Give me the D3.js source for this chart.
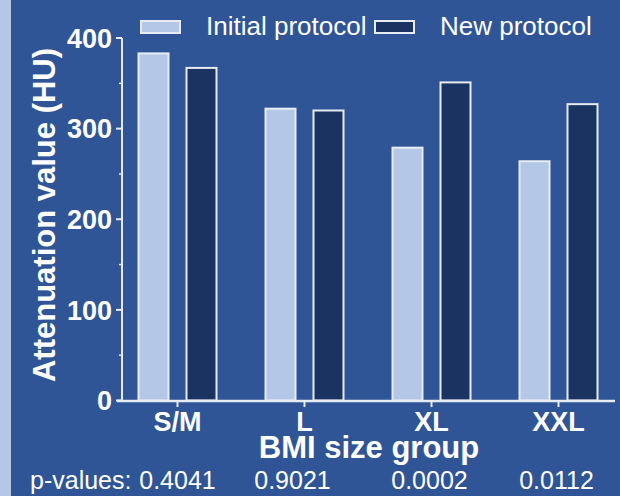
<!DOCTYPE html>
<html><head><meta charset="utf-8">
<script src="https://cdn.jsdelivr.net/npm/d3@7"></script>
<style>html,body{margin:0;padding:0;background:#2f5597;}svg{display:block;}</style>
</head><body>
<script>
const categories = ["S/M", "L", "XL", "XXL"];
const seriesNames = ["Initial protocol", "New protocol"];
const initialValues = [383, 322, 279, 264];
const newValues = [367, 320, 351, 327];
const pValues = ["0.4041", "0.9021", "0.0002", "0.0112"];
const yTicks = [0, 100, 200, 300, 400];
const yMinorTicks = [50, 150, 250, 350];

const W = 620, H = 496;
const bg = "#2f5597", light = "#b4c7e7", dark = "#1a3360", axisCol = "#e6ebf4";
const svg = d3.select("body").append("svg").attr("width", W).attr("height", H);
svg.append("rect").attr("width", W).attr("height", H).attr("fill", bg);
svg.append("rect").attr("width", 11).attr("height", H).attr("fill", light);

const x = d3.scaleBand().domain(categories).range([114, 622]).paddingInner(0).paddingOuter(0);
const y = d3.scaleLinear().domain([0, 400]).range([400.5, 38]);
const barW = 30, gap = 18;
const series = [
  {name: seriesNames[0], values: initialValues, fill: light},
  {name: seriesNames[1], values: newValues, fill: dark}
];

const font = "'Liberation Sans', Arial, sans-serif";

// bars
series.forEach((s, si) => {
  svg.append("g").selectAll("rect").data(categories).join("rect")
    .attr("x", (c) => x(c) + x.bandwidth()/2 + (si === 0 ? -gap/2 - barW : gap/2))
    .attr("y", (c, i) => y(s.values[i]))
    .attr("width", barW)
    .attr("height", (c, i) => y(0) - y(s.values[i]))
    .attr("fill", s.fill)
    .attr("stroke", axisCol).attr("stroke-width", 2);
});

// y axis
const yAxis = svg.append("g").attr("transform", "translate(122,0)");
yAxis.append("line").attr("x1", 0).attr("x2", 0).attr("y1", y(400)).attr("y2", y(0))
  .attr("stroke", axisCol).attr("stroke-width", 2);
yAxis.selectAll("line.maj").data(yTicks).join("line").attr("class", "maj")
  .attr("x1", -6).attr("x2", 0).attr("y1", d => y(d)).attr("y2", d => y(d))
  .attr("stroke", axisCol).attr("stroke-width", 2);
yAxis.selectAll("line.min").data(yMinorTicks).join("line").attr("class", "min")
  .attr("x1", -3).attr("x2", 0).attr("y1", d => y(d)).attr("y2", d => y(d))
  .attr("stroke", axisCol).attr("stroke-width", 1.5);
yAxis.selectAll("text").data(yTicks).join("text")
  .attr("x", -10).attr("y", d => y(d)).attr("dy", "0.36em")
  .attr("text-anchor", "end").attr("fill", "#fff")
  .attr("font-family", font).attr("font-weight", "bold").attr("font-size", 27)
  .text(d => d);

// x axis
const xAxis = svg.append("g");
xAxis.append("line").attr("x1", 117).attr("x2", 615).attr("y1", 401).attr("y2", 401)
  .attr("stroke", axisCol).attr("stroke-width", 2.5);
xAxis.selectAll("line.t").data(categories).join("line").attr("class", "t")
  .attr("x1", c => x(c) + x.bandwidth()/2).attr("x2", c => x(c) + x.bandwidth()/2)
  .attr("y1", 401).attr("y2", 407).attr("stroke", axisCol).attr("stroke-width", 2);
xAxis.selectAll("text").data(categories).join("text")
  .attr("x", c => x(c) + x.bandwidth()/2).attr("y", 431)
  .attr("text-anchor", "middle").attr("fill", "#fff")
  .attr("font-family", font).attr("font-weight", "bold").attr("font-size", 27)
  .text(c => c);

// axis titles
svg.append("text").attr("x", 369).attr("y", 458).attr("text-anchor", "middle")
  .attr("fill", "#fff").attr("font-family", font).attr("font-weight", "bold").attr("font-size", 31)
  .text("BMI size group");
svg.append("text").attr("transform", "translate(55,215) rotate(-90)").attr("text-anchor", "middle")
  .attr("fill", "#fff").attr("font-family", font).attr("font-weight", "bold").attr("font-size", 31)
  .text("Attenuation value (HU)");

// p-values
svg.append("text").attr("x", 30).attr("y", 489).attr("fill", "#fff")
  .attr("font-family", font).attr("font-size", 25).text("p-values:");
const pShift = [0, -12, -2, -2];
svg.append("g").selectAll("text").data(categories).join("text")
  .attr("x", (c, i) => x(c) + x.bandwidth()/2 + pShift[i]).attr("y", 489).attr("text-anchor", "middle")
  .attr("fill", "#fff").attr("font-family", font).attr("font-size", 25)
  .text((c, i) => pValues[i]);

// legend
const legendX = [140, 374];
series.forEach((s, si) => {
  svg.append("rect").attr("x", legendX[si] + 1).attr("y", 21).attr("width", 39).attr("height", 12)
    .attr("fill", s.fill).attr("stroke", axisCol).attr("stroke-width", 2);
  svg.append("text").attr("x", legendX[si] + 66).attr("y", 35)
    .attr("fill", "#fff").attr("font-family", font).attr("font-size", 26).text(s.name);
});
</script>
</body></html>
